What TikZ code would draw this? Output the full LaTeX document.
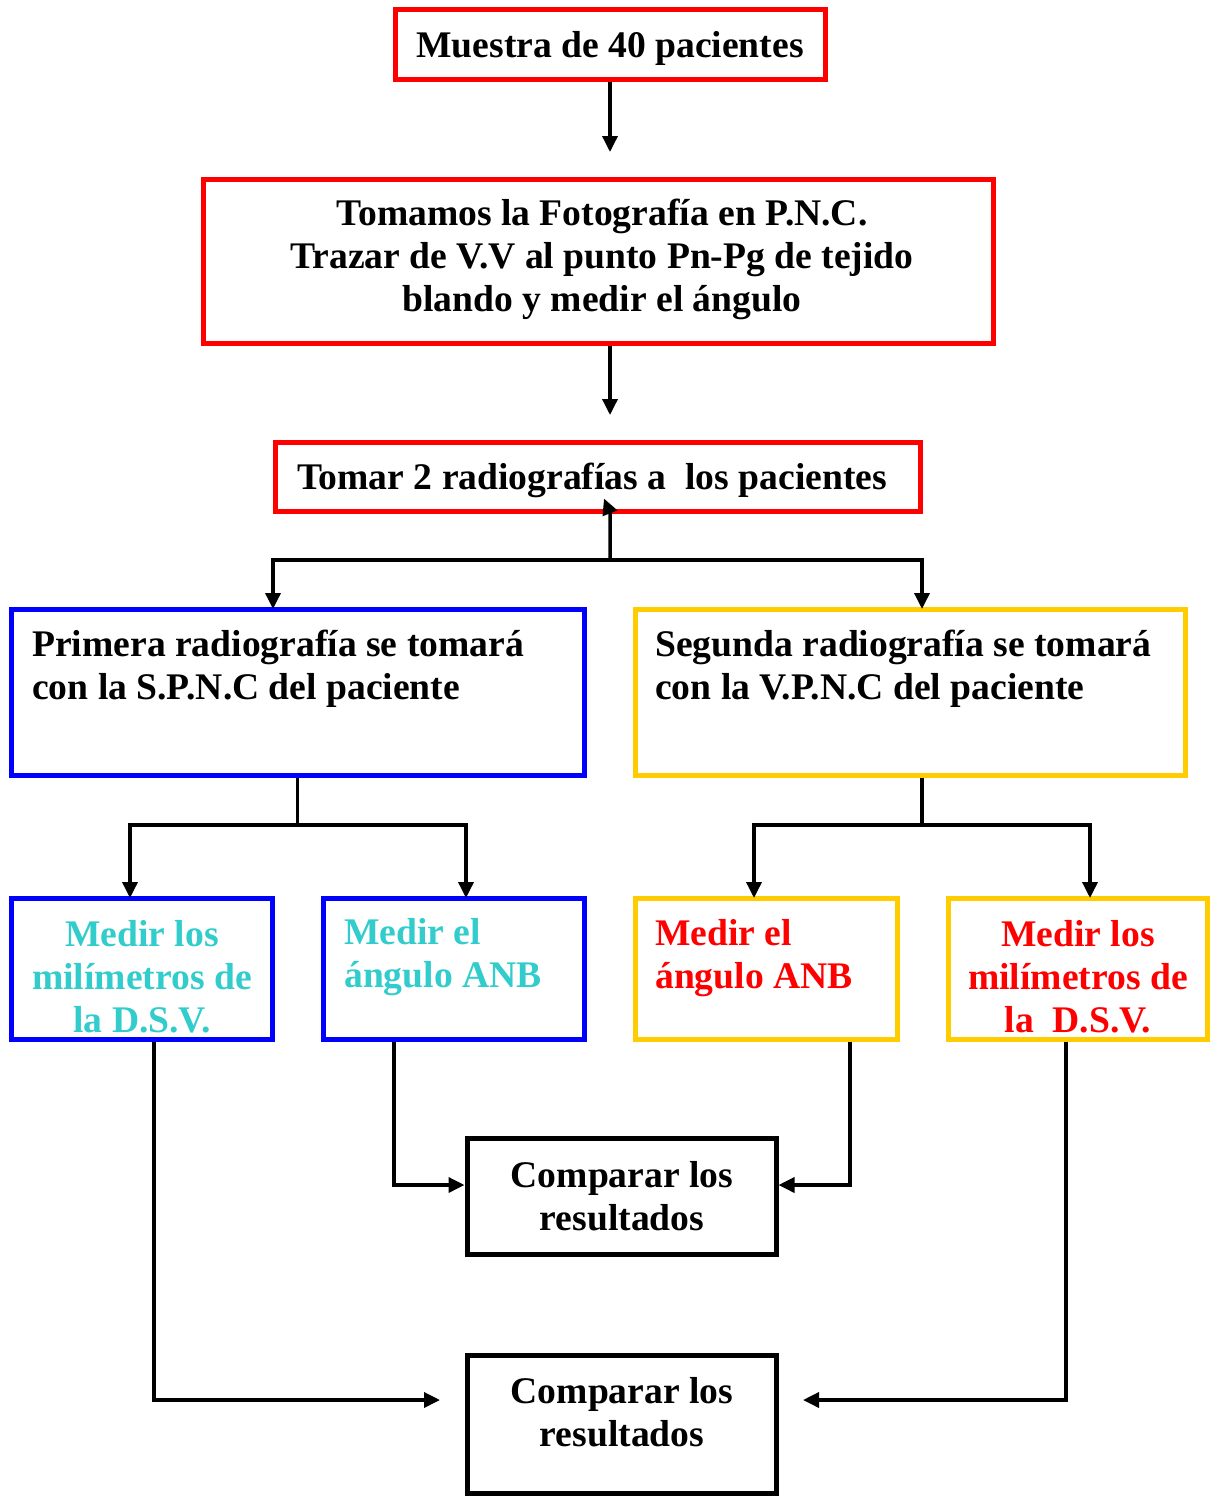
\documentclass[tikz,border=0pt]{standalone}
\usepackage{fontspec}
\setmainfont{Liberation Serif}
\usetikzlibrary{arrows.meta,calc}
\definecolor{boxred}{HTML}{FF0000}
\definecolor{boxblue}{HTML}{0000FF}
\definecolor{boxyellow}{HTML}{FFCC00}
\definecolor{txtcyan}{HTML}{33CCCC}
\tikzset{
  box/.style={draw, line width=5pt, rectangle, inner sep=0pt},
  redbox/.style={box, draw=boxred},
  bluebox/.style={box, draw=boxblue},
  yelbox/.style={box, draw=boxyellow},
  blkbox/.style={box, draw=black},
  txt/.style={inner sep=0pt, font=\fontsize{37.6}{43}\selectfont\bfseries},
  conn/.style={line width=3.5pt},
  arr/.style={conn, -{Triangle[width=15pt,length=16pt]}},
}
\begin{document}
\begin{tikzpicture}[x=1pt,y=-1pt]
\useasboundingbox (0,0) rectangle (1211,1496);
% boxes
\node[redbox, minimum width=430pt, minimum height=69pt] (b1) at (610,44.5) {};
\node[redbox, minimum width=790pt, minimum height=164pt] (b2) at (598,261) {};
\node[redbox, minimum width=645pt, minimum height=69pt] (b3) at (597.5,476.5) {};
\node[bluebox, minimum width=573pt, minimum height=166pt] (A) at (297.5,692) {};
\node[yelbox, minimum width=550pt, minimum height=166pt] (B) at (910,692) {};
\node[bluebox, minimum width=261pt, minimum height=141pt] (C1) at (141.5,968.5) {};
\node[bluebox, minimum width=261pt, minimum height=141pt] (C2) at (453.5,968.5) {};
\node[yelbox, minimum width=262pt, minimum height=141pt] (C3) at (766,968.5) {};
\node[yelbox, minimum width=259pt, minimum height=141pt] (C4) at (1077.5,968.5) {};
\node[blkbox, minimum width=309pt, minimum height=116pt] (D1) at (621.5,1196) {};
\node[blkbox, minimum width=309pt, minimum height=138pt] (D2) at (621.5,1424) {};
% texts
\node[txt] (tb1) at (610,48.5) {Muestra de 40 pacientes};
\node[txt, align=center] (tb2) at (602,259) {Tomamos la Fotografía en P.N.C.\\Trazar de V.V al punto Pn-Pg de tejido\\blando y medir el ángulo};
\node[txt, anchor=west] (tb3) at (297,480) {Tomar 2 radiografías a\ \ los pacientes};
\node[txt, anchor=west, align=left] (tA) at (32,669) {Primera radiografía se tomará\\con la S.P.N.C del paciente};
\node[txt, anchor=west, align=left] (tB) at (655,669) {Segunda radiografía se tomará\\con la V.P.N.C del paciente};
\node[txt, align=center, text=txtcyan] (tC1) at (142,977) {Medir los\\milímetros de\\la D.S.V.};
\node[txt, anchor=west, align=left, text=txtcyan] (tC2) at (344,957) {Medir el\\ángulo ANB};
\node[txt, anchor=west, align=left, text=boxred] (tC3) at (655,958) {Medir el\\ángulo ANB};
\node[txt, align=center, text=boxred] (tC4) at (1078,977) {Medir los\\milímetros de\\la\ \ D.S.V.};
\node[txt, align=center] (tD1) at (622,1196) {Comparar los\\resultados};
\node[txt, align=center] (tD2) at (622,1412) {Comparar los\\resultados};
% coordinates
\coordinate (t1) at (610,152);
\coordinate (t2) at (610,415);
\coordinate (j) at (610,560);
\coordinate (aL) at (273,609);
\coordinate (aR) at (922,609);
\coordinate (k1) at (297.5,825);
\coordinate (k2) at (922,825);
\coordinate (c1t) at (130,898);
\coordinate (c2t) at (466,898);
\coordinate (c3t) at (754,898);
\coordinate (c4t) at (1090,898);
\coordinate (t5) at (440,1400);
\coordinate (t6) at (803,1400);
% connectors
\draw[arr] (b1) -- (t1);
\draw[arr] (t2 |- b2.south) -- (t2);
\draw[arr] (j) -- (j |- b3.south) -- ++(-6,-15);
\draw[arr] (j) -| (aL);
\draw[arr] (j) -| (aR);
\draw[conn] (A.south) -- (k1);
\draw[arr] (k1) -| (c1t);
\draw[arr] (k1) -| (c2t);
\draw[conn] (k2 |- B.south) -- (k2);
\draw[arr] (k2) -| (c3t);
\draw[arr] (k2) -| (c4t);
\draw[arr] ([xshift=12.5pt]C1.south) |- (t5);
\draw[arr] ([xshift=-59.5pt]C2.south) |- ([yshift=11pt]D1.west);
\draw[arr] ([xshift=84pt]C3.south) |- ([yshift=11pt]D1.east);
\draw[arr] ([xshift=-11.5pt]C4.south) |- (t6);
\end{tikzpicture}
\end{document}
